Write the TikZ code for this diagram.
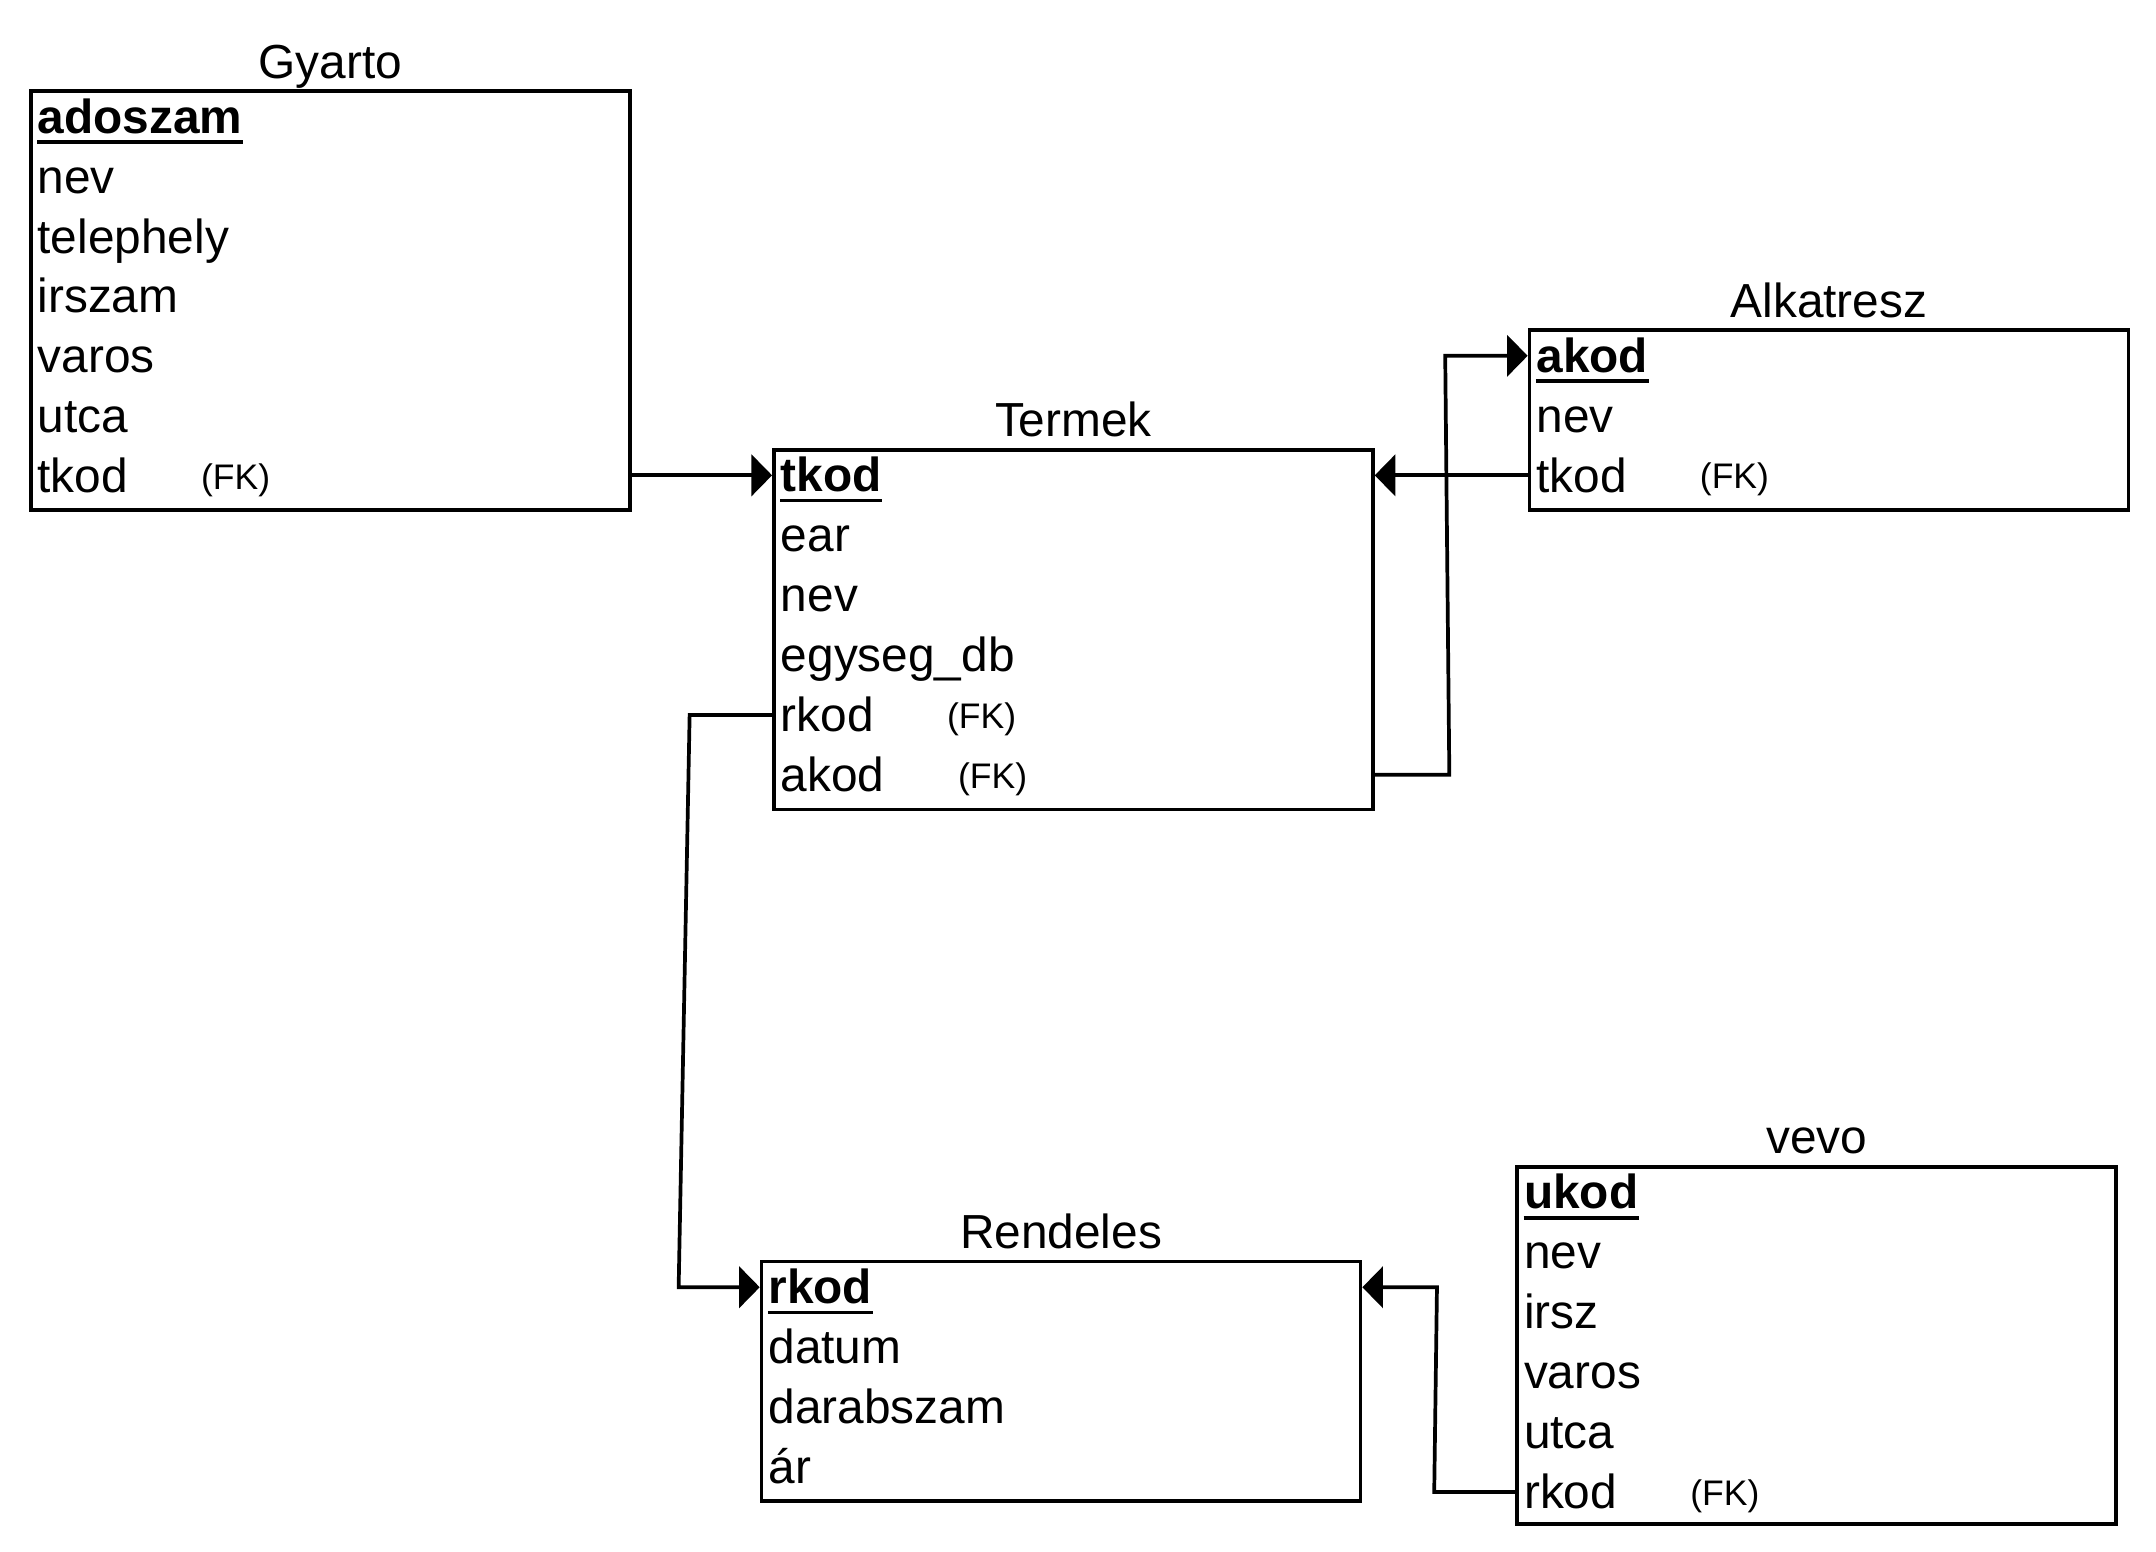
\documentclass[tikz,border=0pt]{standalone}
\usepackage{fontspec}
\setmainfont{Liberation Sans}
\usetikzlibrary{arrows.meta}
\begin{document}
\begin{tikzpicture}[x=0.5pt,y=-0.5pt,
 tbl/.style={draw, line width=1.35pt, minimum width=218pt, inner sep=0pt, anchor=north west},
 ttl/.style={font=\fontsize{17.4}{20}\selectfont, inner sep=0pt, anchor=base},
 fld/.style={font=\fontsize{17.4}{20}\selectfont, inner sep=0pt, text height=13.5pt, text depth=1.5pt, anchor=west},
 key/.style={fld, font=\fontsize{17.4}{20}\selectfont\bfseries},
 fk/.style={font=\fontsize{12.93}{15}\selectfont, inner sep=0pt, text height=11pt, text depth=1.4pt, anchor=west},
 uline/.style={line width=1.35pt},
 conn/.style={line width=1.35pt},
 tipend/.style={-{Triangle[length=7.5pt,width=15pt]}}
]
\useasboundingbox[fill=white] (0,0) rectangle (1569.4,1129.7);

% Gyarto
\node[tbl, minimum height=152.5pt] (gyarto) at (21,65) {};
\node[ttl] (gyartoT) at ([yshift=4pt]gyarto.north) {Gyarto};
\node[key] (g1) at (27,85) {adoszam};
\node[fld] (g2) at (27,128.6) {nev};
\node[fld] (g3) at (27,172.2) {telephely};
\node[fld] (g4) at (27,215.8) {irszam};
\node[fld] (g5) at (27,259.4) {varos};
\node[fld] (g6) at (27,303) {utca};
\node[fld] (g7) at (27,346.6) {tkod};
\node[fk] (g7fk) at (146,346.6) {(FK)};
\draw[uline] ([yshift=-1.5pt]g1.south west) -- ([yshift=-1.5pt]g1.south east);

% Termek
\node[tbl, minimum height=131pt] (termek) at (562,326) {};
\node[ttl] (termekT) at ([yshift=4pt]termek.north) {Termek};
\node[key] (t1) at (568,346) {tkod};
\node[fld] (t2) at (568,389.6) {ear};
\node[fld] (t3) at (568,433.2) {nev};
\node[fld] (t4) at (568,476.8) {egyseg\_db};
\node[fld] (t5) at (568,520.4) {rkod};
\node[fk] (t5fk) at (689,520.4) {(FK)};
\node[fld] (t6) at (568,564) {akod};
\node[fk] (t6fk) at (697,564) {(FK)};
\draw[uline] ([yshift=-1.5pt]t1.south west) -- ([yshift=-1.5pt]t1.south east);

% Alkatresz
\node[tbl, minimum height=65.5pt] (alk) at (1112,239) {};
\node[ttl] (alkT) at ([yshift=4pt]alk.north) {Alkatresz};
\node[key] (a1) at (1118,259) {akod};
\node[fld] (a2) at (1118,302.6) {nev};
\node[fld] (a3) at (1118,346.2) {tkod};
\node[fk] (a3fk) at (1237,346.2) {(FK)};
\draw[uline] ([yshift=-1.5pt]a1.south west) -- ([yshift=-1.5pt]a1.south east);

% Rendeles
\node[tbl, minimum height=87pt] (rend) at (553,917) {};
\node[ttl] (rendT) at ([yshift=4pt]rend.north) {Rendeles};
\node[key] (r1) at (559,937) {rkod};
\node[fld] (r2) at (559,980.6) {datum};
\node[fld] (r3) at (559,1024.2) {darabszam};
\node[fld] (r4) at (559,1067.8) {ár};
\draw[uline] ([yshift=-1.5pt]r1.south west) -- ([yshift=-1.5pt]r1.south east);

% vevo
\node[tbl, minimum height=130pt] (vevo) at (1103,848) {};
\node[ttl] (vevoT) at ([yshift=4pt]vevo.north) {vevo};
\node[key] (v1) at (1109,868) {ukod};
\node[fld] (v2) at (1109,911.6) {nev};
\node[fld] (v3) at (1109,955.2) {irsz};
\node[fld] (v4) at (1109,998.8) {varos};
\node[fld] (v5) at (1109,1042.4) {utca};
\node[fld] (v6) at (1109,1086) {rkod};
\node[fk] (v6fk) at (1230,1086) {(FK)};
\draw[uline] ([yshift=-1.5pt]v1.south west) -- ([yshift=-1.5pt]v1.south east);

% connectors
\coordinate (k1) at (1055,564);
\coordinate (k2) at (1052,259);
\coordinate (k3) at (502,520.4);
\coordinate (k4) at (494,937);
\coordinate (k5) at (1044,1086);
\coordinate (k6) at (1046,937);

\draw[conn,tipend] (gyarto.east |- t1.west) -- (termek.west |- t1.west);
\draw[conn,tipend] (alk.west |- t1.west) -- (termek.east |- t1.west);
\draw[conn,tipend] (termek.east |- t6.west) -- (k1) -- (k2) -- (alk.west |- a1.west);
\draw[conn,tipend] (termek.west |- t5.west) -- (k3) -- (k4) -- (rend.west |- r1.west);
\draw[conn,tipend] (vevo.west |- v6.west) -- (k5) -- (k6) -- (rend.east |- r1.west);
\end{tikzpicture}
\end{document}
